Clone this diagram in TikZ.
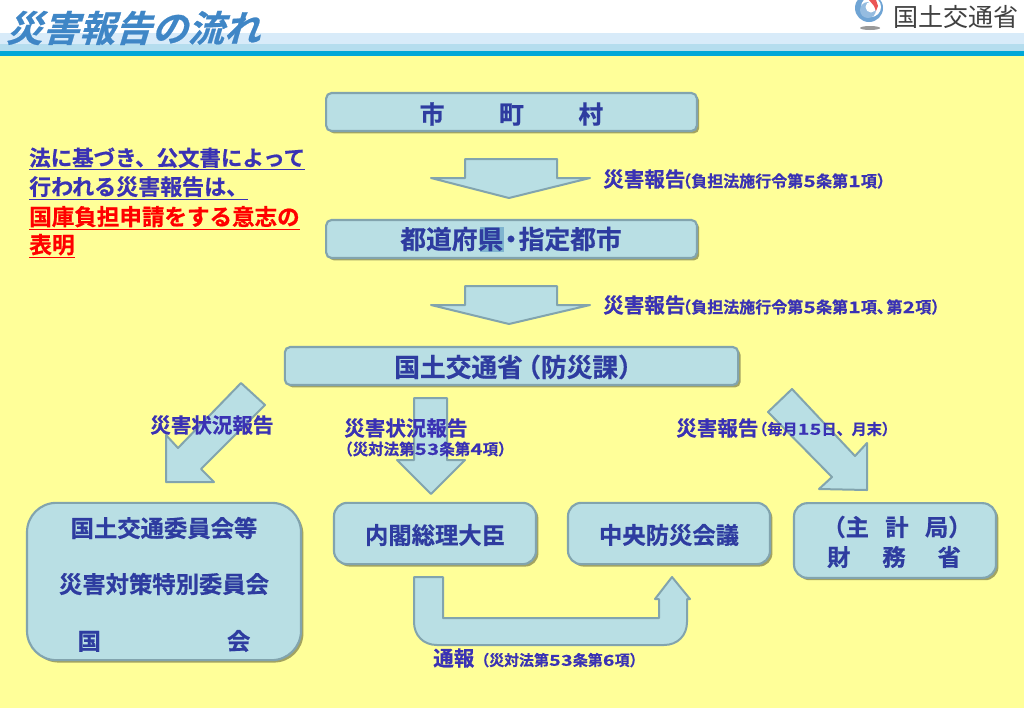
\documentclass[tikz,border=0pt]{standalone}
\usepackage{fontspec}
\setmainfont{Noto Sans CJK JP}[BoldFont={Noto Sans CJK JP Bold}]
\newfontfamily\cjkb{Noto Sans CJK JP Bold}[FakeBold=0.6]
\usetikzlibrary{shadows}
\definecolor{bg}{HTML}{FFFF99}
\definecolor{boxf}{HTML}{B9DFE4}
\definecolor{boxl}{HTML}{82A4AE}
\definecolor{ink}{HTML}{3A32B4}
\definecolor{boxink}{HTML}{2E3CA0}
\definecolor{titleblue}{HTML}{3F86C6}
\definecolor{bandA}{HTML}{D8EBF9}
\definecolor{bandB}{HTML}{B5DDEE}
\definecolor{bandC}{HTML}{00A8D8}
\definecolor{hilite}{HTML}{7FB4CF}
\newcommand{\fs}[1]{\fontsize{#1}{#1}\selectfont}
\newcommand{\dg}[1]{\makebox[.8em]{\scalebox{1.3}[1]{#1}}}
\tikzset{
 x=0.75pt,y=-0.75pt,
 box/.style={draw=boxl,fill=boxf,line width=1.6pt,
   drop shadow={shadow xshift=1.8pt,shadow yshift=-1.8pt,fill=black!45!bg,opacity=.8}},
 arrowshape/.style={draw=boxl,fill=boxf,line width=1.5pt,line join=round},
 boxtext/.style={font=\cjkb\fs{17.5},text=boxink,inner sep=0pt,align=center},
 headtext/.style={font=\cjkb\fs{18.6},text=boxink,inner sep=0pt,align=center},
 head large/.style={font=\cjkb\fs{19.3},text=boxink,inner sep=0pt,align=center},
 lab/.style={font=\cjkb\fs{15.4},text=ink,inner sep=0pt,anchor=west},
 note/.style={font=\cjkb\fs{12},text=ink,inner sep=0pt,anchor=west},
 left note/.style={font=\cjkb\fs{16.1},inner sep=0pt,anchor=west},
}
\begin{document}
\begin{tikzpicture}
\useasboundingbox (0,0) rectangle (1024,708);
% background and header
\fill[bg] (0,0) rectangle (1024,708);
\fill[white] (0,0) rectangle (1024,33);
\fill[bandA] (0,33) rectangle (1024,44);
\fill[bandB] (0,44) rectangle (1024,51);
\fill[bandC] (0,51) rectangle (1024,56);
\node[name=title,font=\cjkb\fs{27.2},text=titleblue,inner sep=0pt,anchor=west,xslant=.3] at (10,28) {災害報告の流れ};
% logo
\begin{scope}
\clip (850,0) rectangle (890,32);
\fill[fill=titleblue!75] (869,8) circle[radius=14];
\fill[white] (871,7) circle[radius=10];
\fill[fill=titleblue!55] (868,10) circle[radius=8];
\fill[white] (871,7) circle[radius=5.5];
\fill[fill={rgb,255:red,235;green,85;blue,85}] (869,0) -- (876,0) -- (878,6) -- (876,11) -- (874,6) -- cycle;
\fill[gray!80] (870,28) ellipse[x radius=10,y radius=2];
\end{scope}
\node[name=mlit,font=\fs{18.8},text=black!75,inner sep=0pt,anchor=west] at (893,17) {国土交通省};
% boxes
\node[box,name=b1,minimum width=278pt,minimum height=28.5pt,rounded corners=4pt] at (511.5,112) {};
\node[box,name=b2,minimum width=278pt,minimum height=28.5pt,rounded corners=4pt] at (511.5,239) {};
\node[box,name=b3,minimum width=340pt,minimum height=28.5pt,rounded corners=4pt] at (511.5,366) {};
\node[box,name=b4,minimum width=205.5pt,minimum height=118pt,rounded corners=22pt] at (164,581.5) {};
\node[box,name=b5,minimum width=151.5pt,minimum height=46pt,rounded corners=10pt] at (435,533.5) {};
\node[box,name=b6,minimum width=151.5pt,minimum height=46pt,rounded corners=10pt] at (669,533.5) {};
\node[box,name=b7,minimum width=151.5pt,minimum height=56pt,rounded corners=10pt] at (895,540.5) {};
\fill[hilite] (480,227) rectangle (504,252);
\node[headtext,name=t1] at (511.5,114) {市\hspace{2.2em}町\hspace{2.2em}村};
\node[head large,name=t2] at (511,239) {都道府県\hspace{-.2em}・\hspace{-.2em}指定都市};
\node[head large,name=t3,anchor=west] at (394,367) {国土交通省\hspace{-.3em}（防災課）};
\node[boxtext,name=t5] at (435,535) {内閣総理大臣};
\node[boxtext,name=t6] at (669,535) {中央防災会議};
\node[boxtext,name=t4a] at (164,528) {国土交通委員会等};
\node[boxtext,name=t4b] at (164,584) {災害対策特別委員会};
\node[boxtext,name=t4c] at (164,641) {国\hspace{5.4em}会};
\node[boxtext,name=t7a] at (897,527) {（主\hspace{.7em}計\hspace{.7em}局）};
\node[boxtext,name=t7b] at (894,557) {財\hspace{1.37em}務\hspace{1.37em}省};
% block arrows
\path[arrowshape] (465,159) -- (557,159) -- (557,178) -- (590,178) -- (509,198) -- (431,178) -- (465,178) -- cycle;
\path[arrowshape] (465,286) -- (557,286) -- (557,305) -- (590,305) -- (509,324) -- (431,305) -- (465,305) -- cycle;
\path[arrowshape] (241,383) -- (265,405) -- (201,469) -- (214,482) -- (166,482) -- (166,435) -- (178,448) -- cycle;
\path[arrowshape] (414,398) -- (447,398) -- (447,460) -- (465,460) -- (431,494) -- (397,460) -- (414,460) -- cycle;
\path[arrowshape] (792,389) -- (768,412) -- (832,477) -- (819,489) -- (867,490) -- (867,443) -- (855,456) -- cycle;
\path[arrowshape] (414,577) -- (443,577) -- (443,618) -- (659,618) -- (659,599) -- (655,599) -- (672,577) -- (690,599) -- (687,599) -- (687,622) .. controls (687,635) and (678,645) .. (664,645) -- (437,645) .. controls (423,645) and (414,635) .. (414,622) -- cycle;
% labels
\node[lab,name=l1] at (603,179) {災害報告};
\node[note,name=n1] at (675,181) {（負担法施行令第\dg{5}条第\dg{1}項）};
\node[lab,name=l2] at (603,305) {災害報告};
\node[note,name=n2] at (675,307) {（負担法施行令第\dg{5}条第\dg{1}項、\hspace{-.4em}第\dg{2}項）};
\node[lab,name=l3] at (150,425) {災害状況報告};
\node[lab,name=l4] at (344,428) {災害状況報告};
\node[note,name=n4,font=\cjkb\fs{11.6}] at (337,449) {（災対法第\dg{5}\dg{3}条第\dg{4}項）};
\node[lab,name=l5] at (676,428) {災害報告};
\node[note,name=n5,font=\cjkb\fs{11.3}] at (752,429) {（毎月\dg{1}\dg{5}日、月末）};
\node[lab,name=l6] at (433,658) {通報{\fs{11.2}（災対法第\dg{5}\dg{3}条第\dg{6}項）}};
% left note
\node[left note,name=q1,text=ink] at (29,159) {\underline{法に基づき、公文書によって}};
\node[left note,name=q2,text=ink,font=\cjkb\fs{16.5}] at (29,188) {\underline{行われる災害報告は、}};
\node[left note,name=q3,text=red,font=\cjkb\fs{16.9}] at (29,218) {\underline{国庫負担申請をする意志の}};
\node[left note,name=q4,text=red,font=\cjkb\fs{17}] at (29,246) {\underline{表明}};
\end{tikzpicture}
\end{document}
